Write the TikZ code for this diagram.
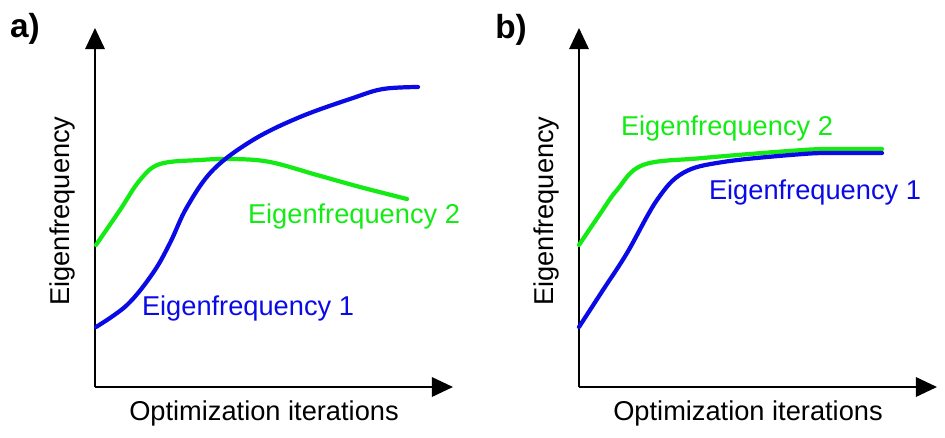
\documentclass[tikz,border=0pt]{standalone}
\usepackage{fontspec}
\setmainfont{Liberation Sans}
\usetikzlibrary{arrows.meta}
\definecolor{modeone}{RGB}{10,10,230}
\definecolor{modetwo}{RGB}{20,235,20}
\tikzstyle{axis}=[draw, line width=1.3pt, -{Triangle[length=12pt,width=11pt]}]
\tikzstyle{modeone}=[draw=modeone, line width=2.4pt, line cap=round]
\tikzstyle{modetwo}=[draw=modetwo, line width=2.4pt, line cap=round]
\tikzstyle{axislabel}=[font=\fontsize{15.5pt}{18pt}\selectfont, inner sep=0pt]
\tikzstyle{panellabel}=[font=\fontsize{19pt}{22pt}\selectfont\bfseries, inner sep=0pt]
\newcommand{\axes}[2]{
	\coordinate (#1o) at (#2,387);
	\coordinate (#1y) at (#2,28);
	\coordinate (#1x) at (#2+358,387);
	\path[axis] (#1o) -- (#1y);
	\path[axis] (#1o) -- (#1x);}

\begin{document}
\begin{tikzpicture}[x=0.02cm, y=-0.02cm]
	\useasboundingbox (0,0) rectangle (945,438);

	% a)
	\node[panellabel] (lbla) at (25,29) {a)};
	\axes{a}{95}
	\node[axislabel, rotate=90] (yleba) at (62,211) {Eigenfrequency};
	\node[axislabel] (xleba) at (264,413) {Optimization iterations};
	\draw[modetwo] plot[smooth, tension=0.6] coordinates {(96,245) (120,210) (140,180) (160,164) (200,160) (233,159) (270,162) (317,175) (360,187) (407,199)};
	\draw[modeone] plot[smooth, tension=0.6] coordinates {(96,327) (127,305) (153,273) (170,243) (187,207) (213,170) (253,140) (300,117) (353,98) (383,89) (418,87)};
	\node[axislabel, text=modetwo] (twoa) at (354,216) {Eigenfrequency 2};
	\node[axislabel, text=modeone] (onea) at (248,308) {Eigenfrequency 1};

	% b)
	\node[panellabel] (lblb) at (511,30) {b)};
	\axes{b}{579}
	\node[axislabel, rotate=90] (ylebb) at (546,211) {Eigenfrequency};
	\node[axislabel] (xlebb) at (748,413) {Optimization iterations};
	\draw[modetwo] plot[smooth, tension=0.6] coordinates {(579,245) (600,214) (617,190) (643,165) (703,158) (803,150) (840,149) (882,149)};
	\draw[modeone] plot[smooth, tension=0.6] coordinates {(579,327) (603,290) (627,253) (657,200) (683,173) (723,162) (803,154) (840,153) (882,153)};
	\node[axislabel, text=modetwo] (twob) at (727,128) {Eigenfrequency 2};
	\node[axislabel, text=modeone] (oneb) at (815,192) {Eigenfrequency 1};
\end{tikzpicture}
\end{document}
